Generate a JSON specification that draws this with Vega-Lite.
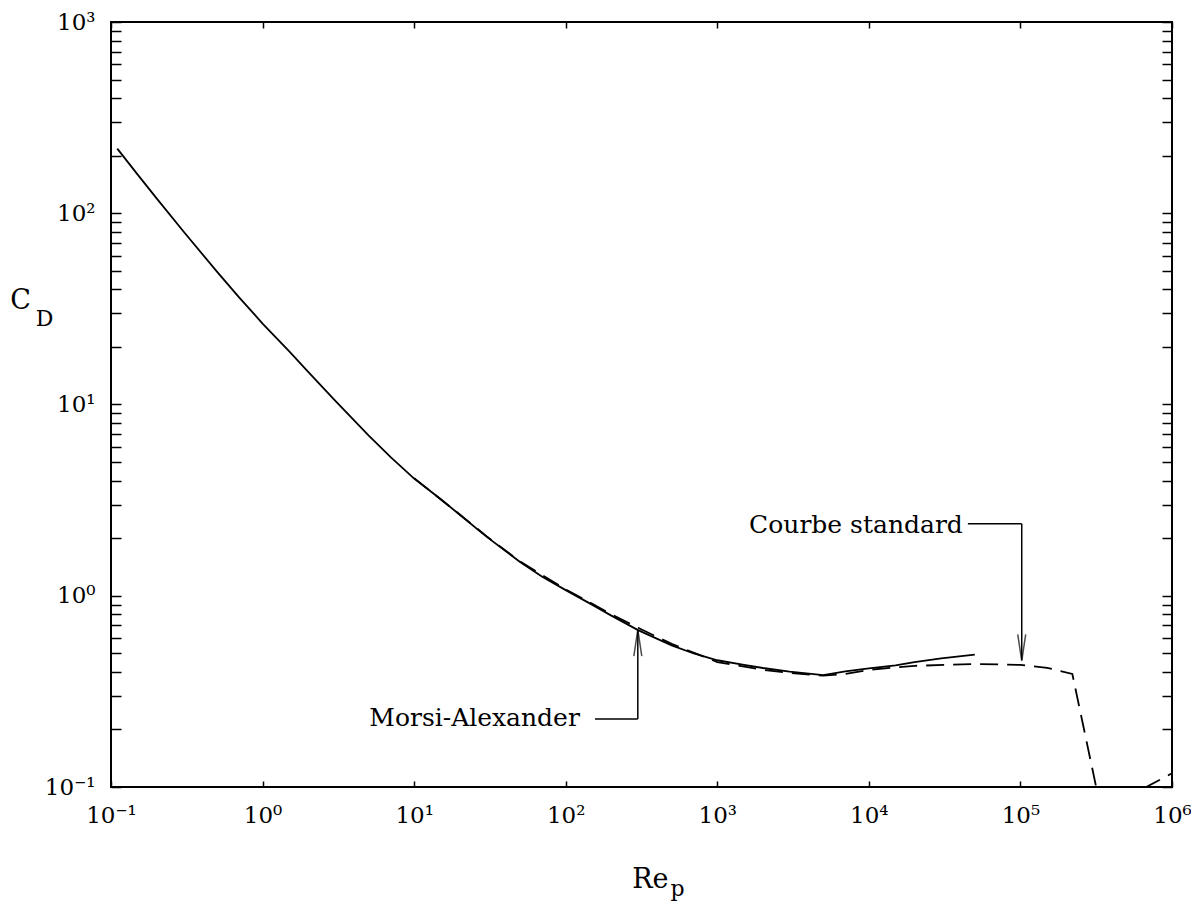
{
  "$schema": "https://vega.github.io/schema/vega-lite/v6.json",
  "width": 1061,
  "height": 765,
  "autosize": {"type": "none"},
  "padding": {"left": 111, "top": 22, "right": 19, "bottom": 116},
  "background": "white",
  "config": {
    "view": {"stroke": "black", "strokeWidth": 2},
    "axis": {
      "labelFont": "DejaVu Serif",
      "labelFontSize": 23,
      "labelColor": "black",
      "titleFont": "DejaVu Serif",
      "titleFontSize": 27,
      "titleFontWeight": "normal",
      "titleColor": "black",
      "tickColor": "black",
      "tickWidth": 1.5,
      "domain": false,
      "grid": false,
      "labelOverlap": false,
      "labelFlush": false,
      "labelBound": false
    }
  },
  "datasets": {
    "morsi": [
      {"Re": 0.11, "CD": 217.8}, {"Re": 0.15, "CD": 159.2}, {"Re": 0.2, "CD": 119.6},
      {"Re": 0.3, "CD": 80.46}, {"Re": 0.5, "CD": 49.51}, {"Re": 0.7, "CD": 36.35},
      {"Re": 1, "CD": 26.51}, {"Re": 1.5, "CD": 18.94}, {"Re": 2, "CD": 14.83},
      {"Re": 3, "CD": 10.51}, {"Re": 5, "CD": 6.9}, {"Re": 7, "CD": 5.31},
      {"Re": 10, "CD": 4.1}, {"Re": 15, "CD": 3.198}, {"Re": 20, "CD": 2.65},
      {"Re": 30, "CD": 2.037}, {"Re": 50, "CD": 1.5}, {"Re": 70, "CD": 1.257},
      {"Re": 100, "CD": 1.07}, {"Re": 150, "CD": 0.896}, {"Re": 200, "CD": 0.787},
      {"Re": 300, "CD": 0.661}, {"Re": 500, "CD": 0.55}, {"Re": 700, "CD": 0.499},
      {"Re": 1000, "CD": 0.46}, {"Re": 1500, "CD": 0.435}, {"Re": 2000, "CD": 0.419},
      {"Re": 3000, "CD": 0.401}, {"Re": 5000, "CD": 0.385}, {"Re": 7000, "CD": 0.402},
      {"Re": 10000, "CD": 0.417}, {"Re": 15000, "CD": 0.432}, {"Re": 20000, "CD": 0.45},
      {"Re": 30000, "CD": 0.47}, {"Re": 50000, "CD": 0.492}
    ],
    "standard": [
      {"Re": 10, "CD": 4.12}, {"Re": 20, "CD": 2.66}, {"Re": 30, "CD": 2.05},
      {"Re": 50, "CD": 1.51}, {"Re": 100, "CD": 1.08}, {"Re": 200, "CD": 0.8},
      {"Re": 300, "CD": 0.68}, {"Re": 500, "CD": 0.56}, {"Re": 1000, "CD": 0.45},
      {"Re": 2000, "CD": 0.41}, {"Re": 3000, "CD": 0.395}, {"Re": 5000, "CD": 0.382},
      {"Re": 7000, "CD": 0.39}, {"Re": 10000, "CD": 0.41}, {"Re": 20000, "CD": 0.43},
      {"Re": 50000, "CD": 0.44}, {"Re": 100000, "CD": 0.435}, {"Re": 150000, "CD": 0.42},
      {"Re": 220000, "CD": 0.39}, {"Re": 330000, "CD": 0.085}, {"Re": 500000, "CD": 0.088},
      {"Re": 1000000, "CD": 0.118}
    ],
    "leaders": [
      {"x": 156, "y": 0.227, "x2": 299, "y2": 0.227},
      {"x": 299, "y": 0.227, "x2": 299, "y2": 0.663},
      {"x": 45000, "y": 2.38, "x2": 102000, "y2": 2.38},
      {"x": 102000, "y": 2.38, "x2": 102000, "y2": 0.463}
    ],
    "heads": [
      {"x": 299, "y": 0.567, "dir": "up"},
      {"x": 102000, "y": 0.535, "dir": "down"}
    ],
    "labels": [
      {"x": 124, "y": 0.208, "text": "Morsi-Alexander"},
      {"x": 41700, "y": 2.14, "text": "Courbe standard"}
    ]
  },
  "resolve": {"axis": {"x": "independent", "y": "independent"}},
  "layer": [
    {
      "data": {"name": "morsi"},
      "mark": {"type": "line", "color": "black", "strokeWidth": 1.8, "clip": true},
      "encoding": {
        "x": {
          "field": "Re", "type": "quantitative",
          "scale": {"type": "log", "domain": [0.1, 1000000], "nice": false},
          "axis": {
            "orient": "bottom",
            "values": [0.1, 1, 10, 100, 1000, 10000, 100000, 1000000],
            "labelExpr": "['10⁻¹','10⁰','10¹','10²','10³','10⁴','10⁵','10⁶'][round(log(datum.value)/LN10)+1]",
            "tickSize": -6,
            "labelPadding": 23,
            "title": "Re",
            "titleX": 557,
            "titleY": 100,
            "titleAlign": "right",
            "titleBaseline": "alphabetic"
          }
        },
        "y": {
          "field": "CD", "type": "quantitative",
          "scale": {"type": "log", "domain": [0.1, 1000], "nice": false},
          "axis": {
            "orient": "left",
            "values": [0.1,0.2,0.3,0.4,0.5,0.6,0.7,0.8,0.9,1,2,3,4,5,6,7,8,9,10,20,30,40,50,60,70,80,90,100,200,300,400,500,600,700,800,900,1000],
            "labelExpr": "indexof([0.1,1,10,100,1000], datum.value) >= 0 ? ['10⁻¹','10⁰','10¹','10²','10³'][round(log(datum.value)/LN10)+1] : ''",
            "tickSize": -10,
            "labelPadding": 26,
            "title": "C",
            "titleAngle": 0,
            "titleX": -91,
            "titleY": 278,
            "titleAlign": "center",
            "titleBaseline": "middle"
          }
        }
      }
    },
    {
      "data": {"name": "standard"},
      "mark": {"type": "line", "color": "black", "strokeWidth": 1.8, "strokeDash": [18, 9], "clip": true},
      "encoding": {
        "x": {
          "field": "Re", "type": "quantitative",
          "axis": {
            "orient": "top",
            "values": [0.1, 1, 10, 100, 1000, 10000, 100000, 1000000],
            "labels": false,
            "tickSize": -6,
            "title": "p",
            "titleFontSize": 22,
            "titleX": 559,
            "titleY": 873,
            "titleAlign": "left",
            "titleBaseline": "alphabetic"
          }
        },
        "y": {
          "field": "CD", "type": "quantitative",
          "axis": {
            "orient": "right",
            "values": [0.1,0.2,0.3,0.4,0.5,0.6,0.7,0.8,0.9,1,2,3,4,5,6,7,8,9,10,20,30,40,50,60,70,80,90,100,200,300,400,500,600,700,800,900,1000],
            "labels": false,
            "tickSize": -10,
            "title": "D",
            "titleFontSize": 22,
            "titleAngle": 0,
            "titleX": -1128,
            "titleY": 296,
            "titleAlign": "center",
            "titleBaseline": "middle"
          }
        }
      }
    },
    {
      "data": {"name": "leaders"},
      "mark": {"type": "rule", "color": "black", "strokeWidth": 1.5},
      "encoding": {
        "x": {"field": "x", "type": "quantitative", "axis": null},
        "y": {"field": "y", "type": "quantitative", "axis": null},
        "x2": {"field": "x2"},
        "y2": {"field": "y2"}
      }
    },
    {
      "data": {"name": "heads"},
      "mark": {"type": "point", "filled": false, "stroke": "black", "strokeWidth": 1.5, "size": 700},
      "encoding": {
        "x": {"field": "x", "type": "quantitative", "axis": null},
        "y": {"field": "y", "type": "quantitative", "axis": null},
        "shape": {
          "field": "dir", "type": "nominal", "legend": null,
          "scale": {"domain": ["up", "down"], "range": ["M-0.3,1L0,-1L0.3,1", "M-0.3,-1L0,1L0.3,-1"]}
        }
      }
    },
    {
      "data": {"name": "labels"},
      "mark": {"type": "text", "font": "DejaVu Serif", "fontSize": 25, "align": "right", "baseline": "alphabetic", "color": "black"},
      "encoding": {
        "x": {"field": "x", "type": "quantitative", "axis": null},
        "y": {"field": "y", "type": "quantitative", "axis": null},
        "text": {"field": "text", "type": "nominal"}
      }
    }
  ]
}
